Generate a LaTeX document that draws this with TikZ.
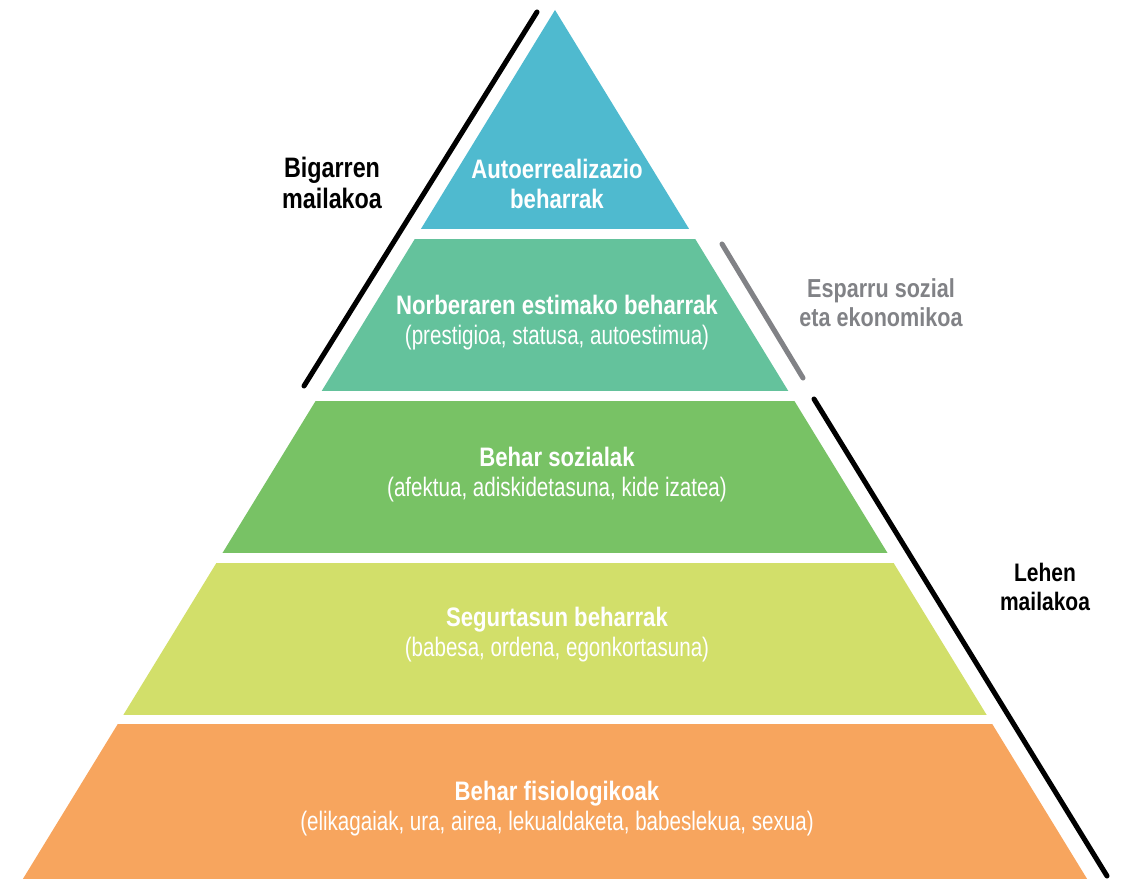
\documentclass[tikz,border=0pt]{standalone}
\usepackage{fontspec}
\setmainfont[FakeStretch=0.77, BoldFeatures={FakeStretch=0.83}]{Liberation Sans}
\usetikzlibrary{positioning}

\definecolor{selfc}{HTML}{4FBACF}
\definecolor{esteemc}{HTML}{64C29C}
\definecolor{socialc}{HTML}{78C265}
\definecolor{safetyc}{HTML}{D2DF6A}
\definecolor{physc}{HTML}{F7A55E}
\definecolor{grayc}{HTML}{818286}

\begin{document}
\begin{tikzpicture}[x=0.025cm, y=-0.025cm]

\tikzstyle{tiertext}=[text=white, align=center, font=\fontsize{19}{21.3}\selectfont]
\tikzstyle{sidetext}=[align=center, font=\fontsize{18}{20.6}\selectfont\bfseries]
\tikzstyle{sideline}=[line width=3.6pt, line cap=round]

\useasboundingbox (0,0) rectangle (1123,879);

% pyramid
\coordinate (apex) at (555,10);
\coordinate (bl) at (10,900);
\coordinate (br) at (1100,900);

\foreach \ytop/\ybot/\col in {0/229/selfc, 240/390/esteemc, 401/552/socialc, 563/714/safetyc, 724/879/physc}{
  \begin{scope}
    \clip (0,\ytop) rectangle (1123,\ybot);
    \fill[\col] (apex) -- (bl) -- (br) -- cycle;
  \end{scope}
}

% tier texts
\node(tier1)[tiertext] at (557,184) {\textbf{Autoerrealizazio}\\\textbf{beharrak}};
\node(tier2)[tiertext] at (557,323) {\textbf{Norberaren estimako beharrak}\\(prestigioa, statusa, autoestimua)};
\node(tier3)[tiertext] at (557,475) {\textbf{Behar sozialak}\\(afektua, adiskidetasuna, kide izatea)};
\node(tier4)[tiertext] at (557,635) {\textbf{Segurtasun beharrak}\\(babesa, ordena, egonkortasuna)};
\node(tier5)[tiertext] at (557,809) {\textbf{Behar fisiologikoak}\\(elikagaiak, ura, airea, lekualdaketa, babeslekua, sexua)};

% side lines
\coordinate (lt) at (537,12);
\coordinate (lb) at (304,386);
\coordinate (gt) at (722,244);
\coordinate (gb) at (803,378);
\coordinate (rt) at (814,399);
\coordinate (rb) at (1107,876);

\draw[sideline] (lt) -- (lb);
\draw[sideline, grayc] (gt) -- (gb);
\draw[sideline] (rt) -- (rb);

% side labels
\node(lab1)[sidetext, font=\fontsize{20}{21.5}\selectfont\bfseries] at (332,183) {Bigarren\\mailakoa};
\node(lab2)[sidetext, text=grayc, font=\fontsize{18.5}{20.6}\selectfont\bfseries] at (881,303) {Esparru sozial\\eta ekonomikoa};
\node(lab3)[sidetext] at (1045,587) {Lehen\\mailakoa};

\end{tikzpicture}
\end{document}
